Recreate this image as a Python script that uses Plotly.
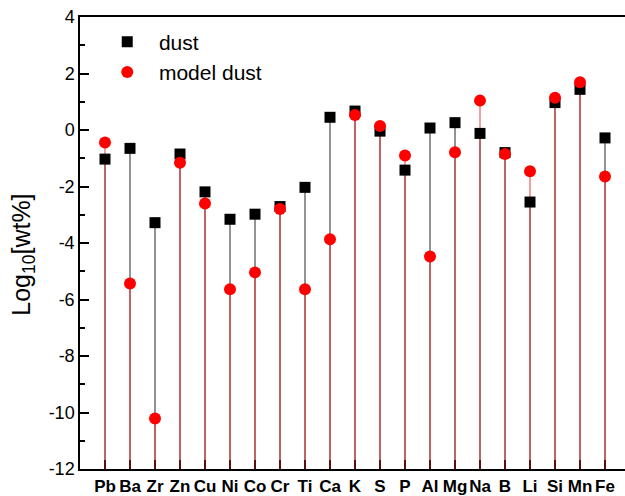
import plotly.graph_objects as go

elements = ["Pb", "Ba", "Zr", "Zn", "Cu", "Ni", "Co", "Cr", "Ti", "Ca", "K",
            "S", "P", "Al", "Mg", "Na", "B", "Li", "Si", "Mn", "Fe"]
dust = [-1.03, -0.65, -3.28, -0.85, -2.19, -3.16, -2.98, -2.71, -2.03, 0.45, 0.67,
        -0.04, -1.42, 0.07, 0.26, -0.12, -0.80, -2.55, 0.97, 1.44, -0.28]
model_dust = [-0.44, -5.43, -10.21, -1.16, -2.60, -5.64, -5.04, -2.80, -5.64, -3.87, 0.53,
              0.14, -0.90, -4.48, -0.79, 1.04, -0.85, -1.46, 1.14, 1.69, -1.65]
y_base = -12
y_ticks = [-12, -10, -8, -6, -4, -2, 0, 2, 4]
y_ticktext = ["-12", "-10", "-8", "-6", "-4", "-2", "0", "2", "4"]
y_title = "Log<sub>10</sub>[wt%]"

xpos = list(range(1, len(elements) + 1))


def drop_lines(vals):
    xs, ys = [], []
    for x, v in zip(xpos, vals):
        xs += [x, x, None]
        ys += [v, y_base, None]
    return xs, ys


fig = go.Figure()
bx, by = drop_lines(dust)
rx, ry = drop_lines(model_dust)
fig.add_trace(go.Scatter(x=bx, y=by, mode="lines", line=dict(color="#4a4a4a", width=1.2),
                         showlegend=False, hoverinfo="skip"))
fig.add_trace(go.Scatter(x=rx, y=ry, mode="lines", line=dict(color="rgba(240,50,50,0.8)", width=1.2),
                         showlegend=False, hoverinfo="skip"))
fig.add_trace(go.Scatter(x=xpos, y=dust, mode="markers", name="\u00a0\u00a0dust",
                         marker=dict(symbol="square", size=11, color="black")))
fig.add_trace(go.Scatter(x=xpos, y=model_dust, mode="markers", name="\u00a0\u00a0model dust",
                         marker=dict(symbol="circle", size=12, color="#ff0000")))

fig.add_annotation(text=y_title, textangle=-90, xref="paper", yref="paper",
                   x=-0.105, y=0.4735, xanchor="center", yanchor="middle",
                   showarrow=False, font=dict(size=25))

fig.update_layout(
    width=625, height=496,
    margin=dict(l=80, r=0, t=17, b=27),
    paper_bgcolor="white", plot_bgcolor="white",
    font=dict(family="Arial, Liberation Sans, sans-serif", size=17, color="black"),
    legend=dict(x=0.05, y=0.99, xanchor="left", yanchor="top",
                bgcolor="rgba(0,0,0,0)", font=dict(size=21)),
    xaxis=dict(
        range=[0, 21.8], tickmode="array", tickvals=xpos, ticktext=elements,
        tickangle=0, automargin=False,
        tickfont=dict(size=17, family="Arial, Liberation Sans, sans-serif", weight="bold"),
        showgrid=False, zeroline=False, showline=True, linecolor="black", linewidth=1.5,
        mirror=True, ticks="inside", ticklen=9, tickwidth=1.5, tickcolor="#5a1010",
        ticklabelstandoff=1,
    ),
    yaxis=dict(
        range=[-12, 4], tickmode="array", tickvals=y_ticks, ticktext=y_ticktext,
        automargin=False,
        showgrid=False, zeroline=False, showline=True, linecolor="black", linewidth=1.5,
        ticks="inside", ticklen=9, tickwidth=1.5, tickcolor="black",
        minor=dict(dtick=1, ticks="inside", ticklen=5, tickwidth=1.5, tickcolor="black"),
        tickfont=dict(size=18),
    ),
)

fig.write_html("out.html")
